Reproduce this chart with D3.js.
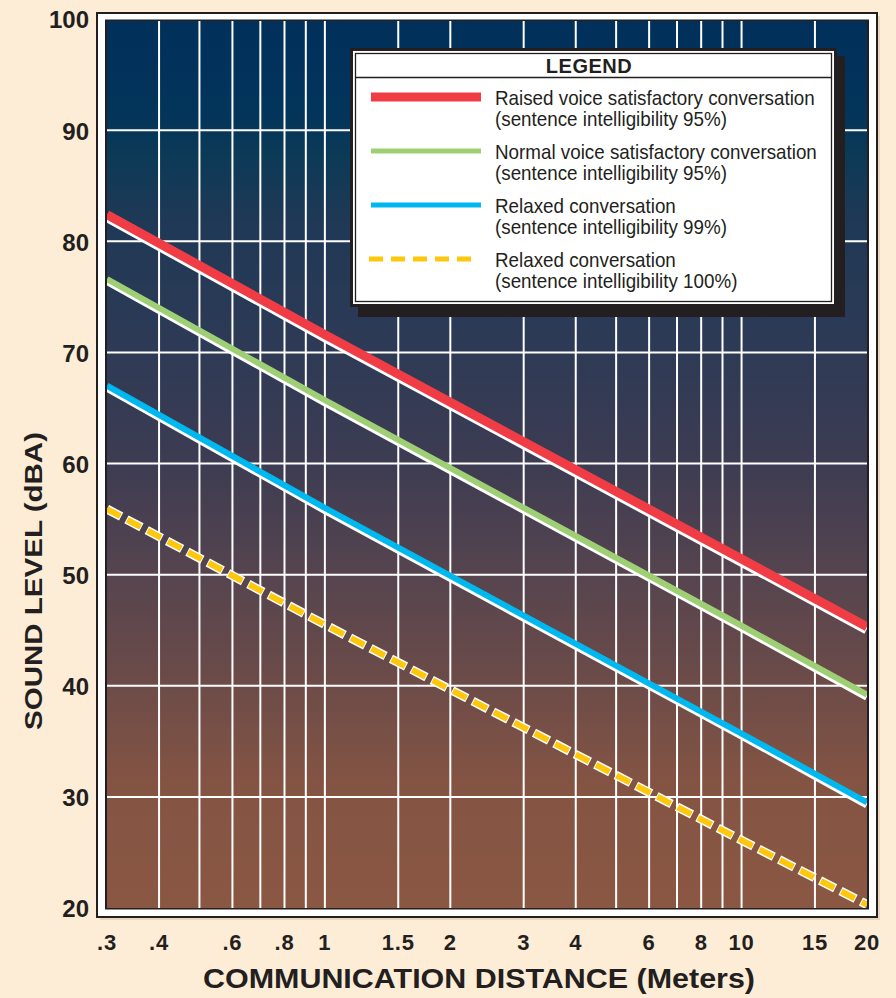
<!DOCTYPE html>
<html><head><meta charset="utf-8">
<script src="https://cdn.jsdelivr.net/npm/d3@7/dist/d3.min.js"></script>
<style>
html,body{margin:0;padding:0;background:#feedd6;}
svg{display:block;}
</style></head>
<body>
<svg id="chart" width="896" height="998"></svg>
<script>
// ---- data ----
const distances = [0.3, 1, 10, 20];
const raisedVoice95 = [82.4, 71.6, 51.4, 45.3];
const normalVoice95 = [76.6, 65.7, 45.4, 39.2];
const relaxed99 = [67.0, 56.0, 35.7, 29.5];
const relaxed100 = [55.9, 45.5, 26.1, 20.3];
const xTickLabels = [0.3, 0.4, 0.6, 0.8, 1, 1.5, 2, 3, 4, 6, 8, 10, 15, 20];
const xGridValues = [0.4, 0.5, 0.6, 0.7, 0.8, 0.9, 1, 1.5, 2, 3, 4, 5, 6, 7, 8, 9, 10, 15];
const yTicks = [20, 30, 40, 50, 60, 70, 80, 90, 100];
const yGridValues = [30, 40, 50, 60, 70, 80, 90];
const seriesNames = [
  ["Raised voice satisfactory conversation", "(sentence intelligibility 95%)"],
  ["Normal voice satisfactory conversation", "(sentence intelligibility 95%)"],
  ["Relaxed conversation", "(sentence intelligibility 99%)"],
  ["Relaxed conversation", "(sentence intelligibility 100%)"]
];
const seriesColors = ["#f03c44", "#9fcf75", "#00b8f0", "#fec70c"];

const svg = d3.select("#chart");
const plot = {l: 107, r: 867, t: 21, b: 908};

const x = d3.scaleLog().domain([0.3, 20]).range([plot.l, plot.r]);
const y = d3.scaleLinear().domain([20, 100]).range([908, 19]);

const defs = svg.append("defs");
const grad = defs.append("linearGradient").attr("id","bg").attr("x1",0).attr("y1",0).attr("x2",0).attr("y2",1);
[[0,"#01305b"],[0.1,"#03345a"],[0.15,"#0b3a57"],[0.22,"#1e3956"],[0.35,"#2c3a56"],[0.5,"#3d3c52"],
 [0.62,"#55444f"],[0.74,"#6b4b49"],[0.86,"#845443"],[1,"#8a5743"]].forEach(s=>{
  grad.append("stop").attr("offset",s[0]).attr("stop-color",s[1]);
});
defs.append("clipPath").attr("id","clip").append("rect")
  .attr("x",plot.l).attr("y",plot.t).attr("width",plot.r-plot.l).attr("height",plot.b-plot.t);

// frame shadow
svg.append("rect").attr("x",100).attr("y",16).attr("width",780).attr("height",904).attr("fill","#e9d6bd");
// outer frame
svg.append("rect").attr("x",97).attr("y",13).attr("width",780).attr("height",904)
  .attr("fill","#ffffff").attr("stroke","#231f20").attr("stroke-width",2);
// inner frame
svg.append("rect").attr("x",105).attr("y",19.5).attr("width",764).attr("height",890)
  .attr("fill","#231f20");
svg.append("rect").attr("x",plot.l).attr("y",plot.t).attr("width",plot.r-plot.l).attr("height",plot.b-plot.t)
  .attr("fill","url(#bg)");

const g = svg.append("g").attr("clip-path","url(#clip)");

// grid
g.selectAll("line.vg").data(xGridValues).join("line")
  .attr("x1",d=>x(d)).attr("x2",d=>x(d)).attr("y1",plot.t).attr("y2",plot.b)
  .attr("stroke","#ffffff").attr("stroke-width",2);
g.selectAll("line.hg").data(yGridValues).join("line")
  .attr("x1",plot.l).attr("x2",plot.r).attr("y1",d=>y(d)).attr("y2",d=>y(d))
  .attr("stroke","#ffffff").attr("stroke-width",2);

// series
const allSeries = [raisedVoice95, normalVoice95, relaxed99, relaxed100];
const widths = [9, 6, 6, 6];
const line = d3.line().x(d=>x(d[0])).y(d=>y(d[1]));
allSeries.forEach((vals,i)=>{
  const pts = distances.map((d,j)=>[d, vals[j]]);
  if (i < 3) {
    g.append("path").attr("d",line(pts)).attr("fill","none")
      .attr("stroke","#ffffff").attr("stroke-width",widths[i]+2)
      .attr("transform","translate(0,2)");
    g.append("path").attr("d",line(pts)).attr("fill","none")
      .attr("stroke",seriesColors[i]).attr("stroke-width",widths[i]);
  } else {
    g.append("path").attr("d",line(pts)).attr("fill","none")
      .attr("stroke","#ffffff").attr("stroke-width",widths[i]+3)
      .attr("stroke-dasharray","17 6").attr("stroke-dashoffset",1);
    g.append("path").attr("d",line(pts)).attr("fill","none")
      .attr("stroke",seriesColors[i]).attr("stroke-width",widths[i])
      .attr("stroke-dasharray","15 8");
  }
});

// axes labels
const tickFont = "'Liberation Sans',Arial,sans-serif";
svg.selectAll("text.yt").data(yTicks).join("text")
  .attr("x",89).attr("y",d=>y(d)+1).attr("dy","0.35em")
  .attr("text-anchor","end").attr("font-family",tickFont).attr("font-weight","bold")
  .attr("font-size",24).attr("fill","#231f20")
  .text(d=>d);
svg.selectAll("text.xt").data(xTickLabels).join("text")
  .attr("x",d=>x(d)).attr("y",950)
  .attr("text-anchor","middle").attr("font-family",tickFont).attr("font-weight","bold")
  .attr("font-size",22).attr("letter-spacing",0.8).attr("fill","#231f20")
  .text(d=>d<1 ? String(d).replace("0.",".") : String(d));

svg.append("text").attr("x",479).attr("y",988).attr("text-anchor","middle")
  .attr("font-family","'Liberation Sans',Arial,sans-serif").attr("font-weight","900")
  .attr("font-size",27).attr("fill","#231f20")
  .attr("textLength",552).attr("lengthAdjust","spacingAndGlyphs")
  .text("COMMUNICATION DISTANCE (Meters)");
svg.append("text").attr("transform","translate(42,581) rotate(-90)").attr("text-anchor","middle")
  .attr("font-family","'Liberation Sans',Arial,sans-serif").attr("font-weight","900")
  .attr("font-size",24).attr("fill","#231f20")
  .attr("textLength",298).attr("lengthAdjust","spacingAndGlyphs")
  .text("SOUND LEVEL (dBA)");

// legend
const lg = svg.append("g");
lg.append("rect").attr("x",358).attr("y",56).attr("width",487).attr("height",261).attr("fill","#231f20");
lg.append("rect").attr("x",351.5).attr("y",49.5).attr("width",484).attr("height",256)
  .attr("fill","#ffffff").attr("stroke","#231f20").attr("stroke-width",3);
lg.append("rect").attr("x",355.5).attr("y",53.5).attr("width",476).attr("height",248)
  .attr("fill","none").attr("stroke","#231f20").attr("stroke-width",1.3);
lg.append("line").attr("x1",355.5).attr("x2",831.5).attr("y1",77.5).attr("y2",77.5)
  .attr("stroke","#231f20").attr("stroke-width",1.3);
lg.append("text").attr("x",589).attr("y",73).attr("text-anchor","middle")
  .attr("font-family","'Liberation Sans',Arial,sans-serif").attr("font-weight","bold")
  .attr("font-size",20).attr("letter-spacing",0.5).attr("fill","#231f20").text("LEGEND");
const entryY = [97, 151, 205, 259];
const legendWidths = [9, 5, 5, 5];
const textGroups = [];
seriesNames.forEach((nm,i)=>{
  const ly = entryY[i];
  const ln = lg.append("line").attr("x1", i===3?369:371).attr("x2", i===3?472:481).attr("y1",ly).attr("y2",ly)
    .attr("stroke",seriesColors[i]).attr("stroke-width",legendWidths[i]);
  if (i===3) ln.attr("stroke-dasharray","14 8");
  const tg = lg.append("g").attr("data-y", ly);
  nm.forEach((t,k)=>{
    tg.append("text").attr("x",0).attr("y",ly+8+k*21)
      .attr("font-family","'Liberation Sans',Arial,sans-serif")
      .attr("font-size",21).attr("fill","#231f20").text(t);
  });
  textGroups.push(tg);
});
// condense legend text horizontally to mimic condensed typeface
const firstLen = textGroups[0].select("text").node().getComputedTextLength();
const squeeze = 320 / firstLen;
textGroups.forEach(tg=>tg.attr("transform",`translate(495,0) scale(${squeeze},1)`));
</script>
</body></html>
